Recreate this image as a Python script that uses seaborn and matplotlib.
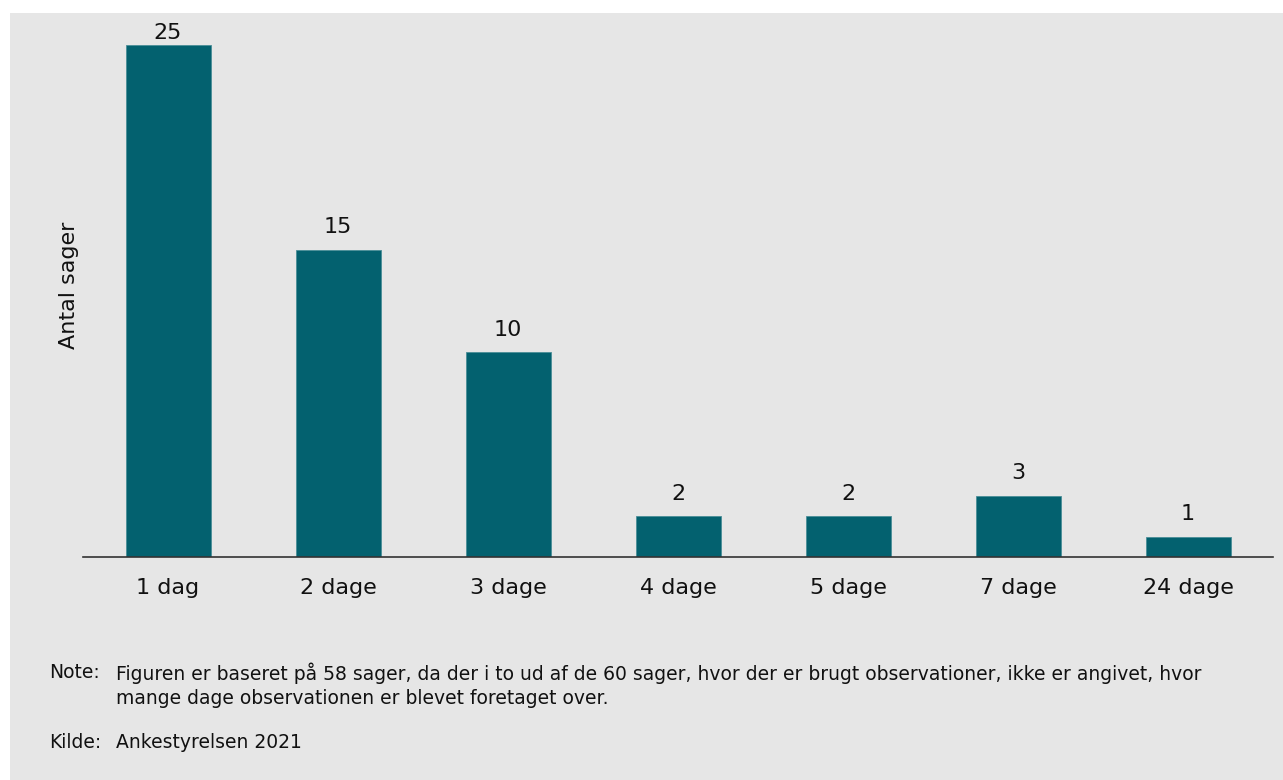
import pandas as pd
import matplotlib.pyplot as plt
import seaborn as sns
from matplotlib.patches import Rectangle

# Data
categories = ["1 dag", "2 dage", "3 dage", "4 dage", "5 dage", "7 dage", "24 dage"]
sager = [25, 15, 10, 2, 2, 3, 1]

note_lines = [
    "Figuren er baseret på 58 sager, da der i to ud af de 60 sager, hvor der er brugt observationer, ikke er angivet, hvor",
    "mange dage observationen er blevet foretaget over.",
]
kilde = "Ankestyrelsen 2021"

df = pd.DataFrame({"dage": categories, "antal": sager})

sns.set_theme(style="white")
plt.rcParams["font.family"] = ["DejaVu Sans"]
fam = "DejaVu Sans"

bg = "#e6e6e6"
bar_color = "#03616f"
txt = "#111111"

fig = plt.figure(figsize=(12.83, 7.80), dpi=100)
fig.patch.set_facecolor("white")
# grey panel behind everything
fig.patches.append(Rectangle((10 / 1283, 0), 1 - 10 / 1283, 1 - 13 / 780,
                             transform=fig.transFigure, facecolor=bg,
                             edgecolor="none", zorder=-10))

ax = fig.add_axes([83 / 1283, (780 - 557) / 780, (1273 - 83) / 1283, (557 - 14) / 780])
ax.set_facecolor("none")

sns.barplot(data=df, x="dage", y="antal", color=bar_color, width=0.5,
            saturation=1, edgecolor="#4a8e98", linewidth=0.6, ax=ax)

labels = ax.bar_label(ax.containers[0], fontsize=16, padding=9, color=txt, family=fam)
# the tallest label sits closer to its bar (panel top)
labels[0].xyann = (0, 1)

ax.set_xlim(-0.5, 6.5)
ax.set_ylim(0, 26.5)
ax.set_yticks([])
ax.set_xlabel("")
ax.set_ylabel("Antal sager", fontsize=16, color=txt, labelpad=3, family=fam)
ax.tick_params(axis="x", labelsize=16, colors=txt, length=0, pad=15)

for s in ["top", "right", "left"]:
    ax.spines[s].set_visible(False)
ax.spines["bottom"].set_color("#333333")
ax.spines["bottom"].set_linewidth(1.2)

# Note and source
fs = 13.5
fig.text(49 / 1283, 1 - 673 / 780, "Note:", fontsize=fs, va="center", color=txt, family=fam)
fig.text(116 / 1283, 1 - 673 / 780, note_lines[0], fontsize=fs, va="center", color=txt, family=fam)
fig.text(116 / 1283, 1 - 699 / 780, note_lines[1], fontsize=fs, va="center", color=txt, family=fam)
fig.text(49 / 1283, 1 - 742 / 780, "Kilde:", fontsize=fs, va="center", color=txt, family=fam)
fig.text(116 / 1283, 1 - 742 / 780, kilde, fontsize=fs, va="center", color=txt, family=fam)

plt.savefig("out.png", dpi=100, facecolor=fig.get_facecolor())
